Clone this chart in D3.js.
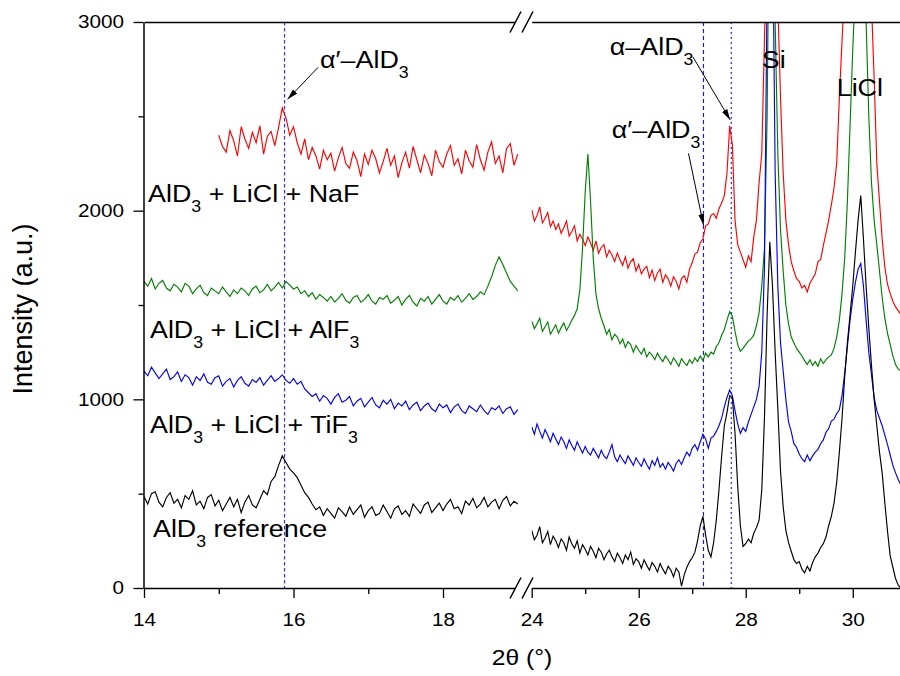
<!DOCTYPE html>
<html>
<head>
<meta charset="utf-8">
<script src="https://cdn.jsdelivr.net/npm/d3@7"></script>
<style>
  html, body { margin: 0; padding: 0; background: #fff; }
  svg { display: block; font-family: "Liberation Sans", Arial, sans-serif; }
  text { white-space: pre; }
</style>
</head>
<body>
<div id="chart"></div>
<script>
const WIDTH = 900;
const HEIGHT = 676;
const TEXT_STRETCH = 1.12;

// 2θ sampling grid of the scans
const STEP = 0.05;
const leftStart = 14.0;
const redLeftStart = 15.0;
const rightStart = 24.0;

const leftDomain = [14, 19.05];
const rightDomain = [24, 30.9];
const yDomain = [0, 3000];

const leftTicks = [14, 16, 18];
const leftMinorTicks = [15, 17];
const rightTicks = [24, 26, 28, 30];
const rightMinorTicks = [25, 27, 29];
const yTicks = [0, 1000, 2000, 3000];
const yMinorTicks = [500, 1500, 2500];

// marker positions (2θ) of the reflections
const refLines = [
  { t: 15.88, side: "left", dash: "3.5,2.5", color: "#3030f0" },
  { t: 27.21, side: "right", dash: "4,3", color: "#1818f0" },
  { t: 27.73, side: "right", dash: "2,3", color: "#2828f0" }
];

// AlD3 reference (black)
const blackLeft = [
  485, 445, 500, 510, 455, 430, 480, 505, 450, 470,
  425, 490, 470, 515, 440, 460, 420, 480, 495, 435,
  465, 410, 445, 480, 430, 470, 400, 455, 490, 440,
  425, 470, 515, 495, 565, 590, 650, 700, 665, 630,
  610, 585, 545, 505, 480, 445, 415, 430, 385, 420,
  395, 370, 425, 405, 380, 430, 390, 415, 440, 375,
  410, 430, 385, 395, 440, 405, 370, 420, 435, 390,
  410, 380, 445, 420, 395, 440, 455, 400, 425, 450,
  410, 445, 470, 420, 430, 395, 460, 440, 475, 425,
  445, 480, 430, 455, 470, 420, 465, 485, 435, 460,
  445
];
const blackRight = [
  305, 255, 280, 325, 240, 265, 300, 230, 275, 250,
  215, 260, 240, 200, 270, 235, 210, 250, 185, 230,
  205, 175, 220, 195, 160, 210, 190, 150, 180, 200,
  165, 140, 185, 160, 130, 175, 150, 190, 125, 155,
  140, 105, 150, 120, 95, 135, 115, 85, 130, 100,
  75, 115, 95, 60, 105, 85, 10, 70, 110, 140,
  160, 190, 250, 330, 380, 280, 200, 165, 240, 360,
  520, 700, 860, 930, 1020, 1010, 820, 540, 330, 220,
  235, 260, 240, 290, 320, 360, 520, 900, 1450, 1835,
  1600, 1250, 950, 620, 430, 305, 240, 195, 150, 130,
  140, 100, 80, 115, 90, 135, 165, 185, 215, 235,
  270, 330, 380, 450, 560, 720, 900, 1120, 1300, 1450,
  1600, 1780, 1950, 2080, 1850, 1600, 1380, 1180, 1000, 860,
  720, 610, 450, 300, 170, 110, 50, 15, 0
];

// AlD3 + LiCl + TiF3 (blue)
const blueLeft = [
  1150, 1125, 1170, 1140, 1110, 1135, 1160, 1105, 1120, 1145,
  1095, 1130, 1115, 1075, 1120, 1100, 1135, 1090, 1080, 1115,
  1125, 1070, 1095, 1110, 1065, 1100, 1120, 1085, 1070, 1105,
  1090, 1115, 1075, 1100, 1125, 1095, 1110, 1130, 1100, 1085,
  1110, 1080, 1095, 1055, 1035, 1015, 1030, 990, 1020, 1005,
  975, 1010, 1030, 985, 995, 1015, 965, 990, 1005, 960,
  985, 1010, 970, 955, 995, 975, 1000, 950, 980, 965,
  990, 945, 970, 985, 940, 965, 980, 950, 935, 975,
  955, 970, 930, 960, 975, 940, 925, 965, 950, 935,
  970, 940, 920, 955, 945, 965, 925, 950, 960, 920,
  945
];
const blueRight = [
  855, 815, 870, 830, 795, 840, 810, 775, 820, 790,
  760, 800, 775, 740, 785, 755, 730, 775, 745, 715,
  750, 720, 705, 740, 715, 690, 730, 700, 685, 720,
  760, 695, 670, 705, 680, 660, 700, 675, 650, 690,
  665, 645, 685, 655, 630, 675, 650, 690, 640, 660,
  630, 665, 645, 620, 660, 680, 655, 690, 720, 700,
  740, 760, 730, 775, 815, 790, 740, 795, 805, 830,
  860, 900, 960, 1010, 1050, 1020, 940, 870, 820, 850,
  830, 880, 920, 960, 1000, 1070, 1250, 1700, 3200, 5000,
  3600, 2200, 1600, 1300, 1150, 1000, 880, 830, 765, 745,
  710, 685, 670, 705, 675, 700, 720, 735, 765, 785,
  825, 845, 885, 895, 925, 945, 1020, 1140, 1280, 1420,
  1530, 1620, 1690, 1720, 1600, 1420, 1250, 1130, 1010, 940,
  900, 860, 810, 760, 705, 650, 610, 575, 545
];

// AlD3 + LiCl + AlF3 (green)
const greenLeft = [
  1625, 1600, 1640, 1585, 1615, 1630, 1590, 1575, 1610, 1595,
  1570, 1615, 1600, 1560, 1585, 1605, 1565, 1550, 1590, 1575,
  1560, 1595, 1570, 1545, 1580, 1560, 1590, 1575, 1550, 1585,
  1600, 1565, 1580, 1610, 1575, 1595, 1620, 1590, 1625, 1605,
  1585, 1595, 1560, 1575, 1545, 1565, 1530, 1555, 1540, 1520,
  1545, 1515, 1535, 1560, 1525, 1510, 1540, 1550, 1515, 1530,
  1555, 1520, 1505, 1540, 1530, 1550, 1510, 1525, 1545, 1500,
  1530, 1550, 1515, 1495, 1535, 1520, 1545, 1505, 1530, 1555,
  1520, 1505, 1540, 1525, 1550, 1515, 1535, 1560, 1530, 1545,
  1570, 1555, 1600, 1650, 1710, 1755, 1715, 1670, 1625, 1600,
  1575
];
const greenRight = [
  1415, 1375, 1400, 1430, 1360, 1385, 1410, 1345, 1370, 1395,
  1350, 1380, 1405, 1365, 1390, 1420, 1445, 1480, 1580, 1800,
  2100, 2300, 2050, 1750, 1560, 1480, 1430, 1390, 1345, 1370,
  1315, 1345, 1330, 1295, 1320, 1275, 1305, 1290, 1250, 1285,
  1260, 1240, 1270, 1225, 1250, 1235, 1210, 1245, 1220, 1200,
  1230, 1210, 1185, 1220, 1200, 1175, 1215, 1195, 1180, 1210,
  1190, 1220, 1200, 1230, 1205, 1245, 1225, 1250, 1240, 1280,
  1300, 1340, 1370, 1420, 1465, 1440, 1360, 1290, 1255, 1270,
  1290, 1310, 1320, 1340, 1390, 1460, 1600, 1800, 2500, 4000,
  3900, 3000, 2300, 1900, 1680, 1500, 1400, 1330, 1300, 1270,
  1250, 1230, 1205, 1185, 1210, 1180, 1200, 1175, 1215, 1190,
  1210, 1225, 1235, 1270, 1330, 1420, 1560, 1750, 2050, 2450,
  2850, 3200, 3600, 3800, 3500, 3000, 2500, 2150, 1950, 1820,
  1680, 1540, 1430, 1350, 1290, 1230, 1185, 1160, 1150
];

// AlD3 + LiCl + NaF (red), left scan starts at 15°
const redLeft = [
  2400, 2340, 2310, 2425, 2370, 2290, 2445, 2380, 2330, 2415,
  2360, 2450, 2300, 2395, 2420, 2345, 2440, 2545, 2490, 2400,
  2445, 2360, 2300, 2380, 2270, 2335, 2290, 2220, 2320, 2270,
  2305, 2210, 2280, 2335, 2250, 2225, 2310, 2265, 2180, 2300,
  2245, 2320, 2275, 2200, 2260, 2330, 2240, 2290, 2175, 2255,
  2310, 2225, 2340, 2270, 2200, 2295, 2250, 2185, 2320, 2260,
  2230, 2300, 2345, 2240, 2275, 2195, 2320, 2265, 2230, 2350,
  2270, 2215, 2310, 2365, 2250, 2290, 2200, 2330, 2355, 2240,
  2300
];
const redRight = [
  2005, 1945, 1975, 2020, 1935, 1960, 1990, 1915, 1945, 1900,
  1930, 1880, 1910, 1945, 1865, 1890, 1920, 1840, 1875, 1850,
  1815, 1860, 1830, 1790, 1840, 1775, 1805, 1820, 1755, 1790,
  1765, 1730, 1775, 1740, 1710, 1755, 1695, 1730, 1745, 1680,
  1715, 1665, 1690, 1705, 1645, 1685, 1630, 1670, 1690, 1620,
  1660, 1640, 1600, 1650, 1625, 1585, 1640, 1655, 1620, 1690,
  1725, 1770, 1780, 1830, 1850, 1920, 1930, 1975, 1985, 1960,
  2010, 2040, 2080, 2200, 2450, 2350, 1950, 1820, 1780, 1740,
  1700, 1760, 1730, 1860, 1950, 2150, 2300, 2900, 3500, 4500,
  4200, 3600, 3100, 2600, 2200, 1950, 1820, 1730, 1680, 1640,
  1625, 1590, 1605, 1570, 1615, 1640, 1665, 1730, 1740, 1815,
  1880, 1950, 2030, 2120, 2250, 2600, 2900, 3200, 3500, 3800,
  4100, 4300, 4400, 4500, 4200, 3900, 3500, 3100, 2700, 2250,
  2050, 1850, 1700, 1610, 1560, 1520, 1490, 1470, 1450
];

// drawn back to front
const series = [
  { name: "NaF", color: "#ff0000", left: redLeft, leftStart: redLeftStart, right: redRight },
  { name: "AlF3", color: "#008000", left: greenLeft, leftStart: leftStart, right: greenRight },
  { name: "TiF3", color: "#0000ff", left: blueLeft, leftStart: leftStart, right: blueRight },
  { name: "ref", color: "#000000", left: blackLeft, leftStart: leftStart, right: blackRight }
];

// text labels, anchored in data units [2θ, intensity]
const seriesLabels = [
  { side: "left", at: [14.054, 2046], parts: [["AlD"], ["3", true], [" + LiCl + NaF"]] },
  { side: "left", at: [14.08, 1325], parts: [["AlD"], ["3", true], [" + LiCl + AlF"], ["3", true]] },
  { side: "left", at: [14.08, 822], parts: [["AlD"], ["3", true], [" + LiCl + TiF"], ["3", true]] },
  { side: "left", at: [14.12, 270], parts: [["AlD"], ["3", true], [" reference"]] }
];
const peakLabels = [
  { side: "left", at: [16.355, 2756], parts: [["\u03b1\u2032\u2013AlD"], ["3", true]] },
  { side: "right", at: [25.46, 2825], parts: [["\u03b1\u2013AlD"], ["3", true]] },
  { side: "right", at: [25.495, 2385], parts: [["\u03b1\u2032\u2013AlD"], ["3", true]] },
  { side: "right", at: [28.30, 2756], parts: [["Si"]] },
  { side: "right", at: [29.70, 2608], parts: [["LiCl"]] }
];
const arrows = [
  { side: "left", from: [16.33, 2760], to: [15.92, 2590] },
  { side: "right", from: [27.01, 2816], to: [27.71, 2481] },
  { side: "right", from: [26.93, 2304], to: [27.21, 1924] }
];

const xLeft = d3.scaleLinear().domain(leftDomain).range([144, 521.5]);
const xRight = d3.scaleLinear().domain(rightDomain).range([531.7, 900.9]);
const y = d3.scaleLinear().domain(yDomain).range([588, 22]);
const xFor = (side) => (side === "left" ? xLeft : xRight);

const svg = d3.select("#chart")
  .append("svg")
  .attr("width", WIDTH)
  .attr("height", HEIGHT)
  .attr("viewBox", `0 0 ${WIDTH} ${HEIGHT}`);

const defs = svg.append("defs");
[["clip-left", xLeft], ["clip-right", xRight]].forEach(([id, sc]) => {
  const [r0, r1] = sc.range();
  defs.append("clipPath").attr("id", id)
    .append("rect")
    .attr("x", r0).attr("y", y(yDomain[1]))
    .attr("width", r1 - r0).attr("height", y(0) - y(yDomain[1]));
});
defs.append("marker")
  .attr("id", "arrow-head")
  .attr("viewBox", "0 0 11 6")
  .attr("refX", 11)
  .attr("refY", 3)
  .attr("markerWidth", 11)
  .attr("markerHeight", 6)
  .attr("markerUnits", "userSpaceOnUse")
  .attr("orient", "auto")
  .append("path")
  .attr("d", "M0,0 L11,3 L0,6 z")
  .attr("fill", "#000");

// reference lines
svg.append("g").selectAll("line")
  .data(refLines)
  .join("line")
  .attr("x1", (d) => xFor(d.side)(d.t))
  .attr("x2", (d) => xFor(d.side)(d.t))
  .attr("y1", y(yDomain[1]))
  .attr("y2", y(0))
  .attr("stroke", (d) => d.color)
  .attr("stroke-width", 1.2)
  .attr("stroke-dasharray", (d) => d.dash);

// traces
const traces = svg.append("g").attr("fill", "none").attr("stroke-width", 1.15);
series.forEach((s) => {
  const leftLine = d3.line()
    .x((d, i) => xLeft(s.leftStart + i * STEP))
    .y((d) => y(d));
  const rightLine = d3.line()
    .x((d, i) => xRight(rightStart + i * STEP))
    .y((d) => y(d));
  traces.append("path")
    .attr("clip-path", "url(#clip-left)")
    .attr("stroke", s.color)
    .attr("d", leftLine(s.left));
  traces.append("path")
    .attr("clip-path", "url(#clip-right)")
    .attr("stroke", s.color)
    .attr("d", rightLine(s.right));
});

// axes
function styleAxis(g) {
  g.select(".domain").attr("stroke", "#000").attr("stroke-width", 1.5);
  g.selectAll(".tick line").attr("stroke", "#000").attr("stroke-width", 1.3);
  g.selectAll("text")
    .attr("fill", "#000")
    .attr("font-size", 18.5)
    .attr("font-family", "Liberation Sans, Arial, sans-serif");
}
const fmt = d3.format("d");

const yAxis = svg.append("g")
  .attr("transform", `translate(${xLeft.range()[0] - 0.5},0)`)
  .call(d3.axisLeft(y).tickValues(yTicks).tickFormat(fmt).tickSize(10).tickSizeOuter(0))
  .call(styleAxis);
yAxis.selectAll("text")
  .attr("x", -19.5 / TEXT_STRETCH)
  .attr("transform", `scale(${TEXT_STRETCH},1)`);
svg.append("g")
  .attr("transform", `translate(${xLeft.range()[0] - 0.5},0)`)
  .call(d3.axisLeft(y).tickValues(yMinorTicks).tickSize(5).tickFormat(""))
  .call(styleAxis)
  .select(".domain").remove();

[
  [xLeft, leftTicks, leftMinorTicks],
  [xRight, rightTicks, rightMinorTicks]
].forEach(([sc, major, minor]) => {
  const g = svg.append("g")
    .attr("transform", `translate(0,${y(0)})`)
    .call(d3.axisBottom(sc).tickValues(major).tickFormat(fmt).tickSize(10).tickSizeOuter(0))
    .call(styleAxis);
  g.selectAll("text")
    .attr("y", 38)
    .attr("dy", 0)
    .attr("transform", `scale(${TEXT_STRETCH},1)`);
  svg.append("g")
    .attr("transform", `translate(0,${y(0)})`)
    .call(d3.axisBottom(sc).tickValues(minor).tickSize(6).tickFormat(""))
    .call(styleAxis)
    .select(".domain").remove();
  svg.append("g")
    .attr("transform", `translate(0,${y(yDomain[1])})`)
    .call(d3.axisTop(sc).tickValues([]).tickSizeOuter(0))
    .call(styleAxis);
});

// axis breaks
const breakCenters = [xLeft.range()[1] - 6, xLeft.range()[1] + 6];
[y(0), y(yDomain[1])].forEach((yy) => {
  const [c1, c2] = breakCenters;
  svg.append("polygon")
    .attr("points", [
      [c1 + 2.1, yy - 4], [c2 + 2.1, yy - 4], [c2 - 2.1, yy + 4], [c1 - 2.1, yy + 4]
    ].join(" "))
    .attr("fill", "#fff");
  breakCenters.forEach((c) => {
    svg.append("line")
      .attr("x1", c - 5.5).attr("y1", yy + 10.5)
      .attr("x2", c + 5.5).attr("y2", yy - 10.5)
      .attr("stroke", "#000")
      .attr("stroke-width", 1.5);
  });
});

// labels
function richText(parent, x, yy, parts, size) {
  const text = parent.append("text")
    .attr("transform", `translate(${x},${yy}) scale(${TEXT_STRETCH},1)`)
    .attr("font-size", size)
    .attr("fill", "#000");
  const shift = size * 0.42;
  let down = false;
  parts.forEach(([str, sub]) => {
    const span = text.append("tspan").text(str);
    if (sub) {
      span.attr("font-size", size * 0.66);
      if (!down) { span.attr("dy", shift); down = true; }
    } else if (down) {
      span.attr("dy", -shift);
      down = false;
    }
  });
  return text;
}

const labelLayer = svg.append("g");
seriesLabels.concat(peakLabels).forEach((d) => {
  richText(labelLayer, xFor(d.side)(d.at[0]), y(d.at[1]), d.parts, 24);
});

svg.append("g").selectAll("line")
  .data(arrows)
  .join("line")
  .attr("x1", (d) => xFor(d.side)(d.from[0]))
  .attr("y1", (d) => y(d.from[1]))
  .attr("x2", (d) => xFor(d.side)(d.to[0]))
  .attr("y2", (d) => y(d.to[1]))
  .attr("stroke", "#000")
  .attr("stroke-width", 1)
  .attr("marker-end", "url(#arrow-head)");

// axis titles
svg.append("text")
  .attr("transform", `translate(522,665) scale(${TEXT_STRETCH},1)`)
  .attr("text-anchor", "middle")
  .attr("font-size", 22)
  .text("2\u03b8 (\u00b0)");

svg.append("text")
  .attr("transform", "translate(32,309) rotate(-90)")
  .attr("text-anchor", "middle")
  .attr("font-size", 27)
  .text("Intensity (a.u.)");
</script>
</body>
</html>
